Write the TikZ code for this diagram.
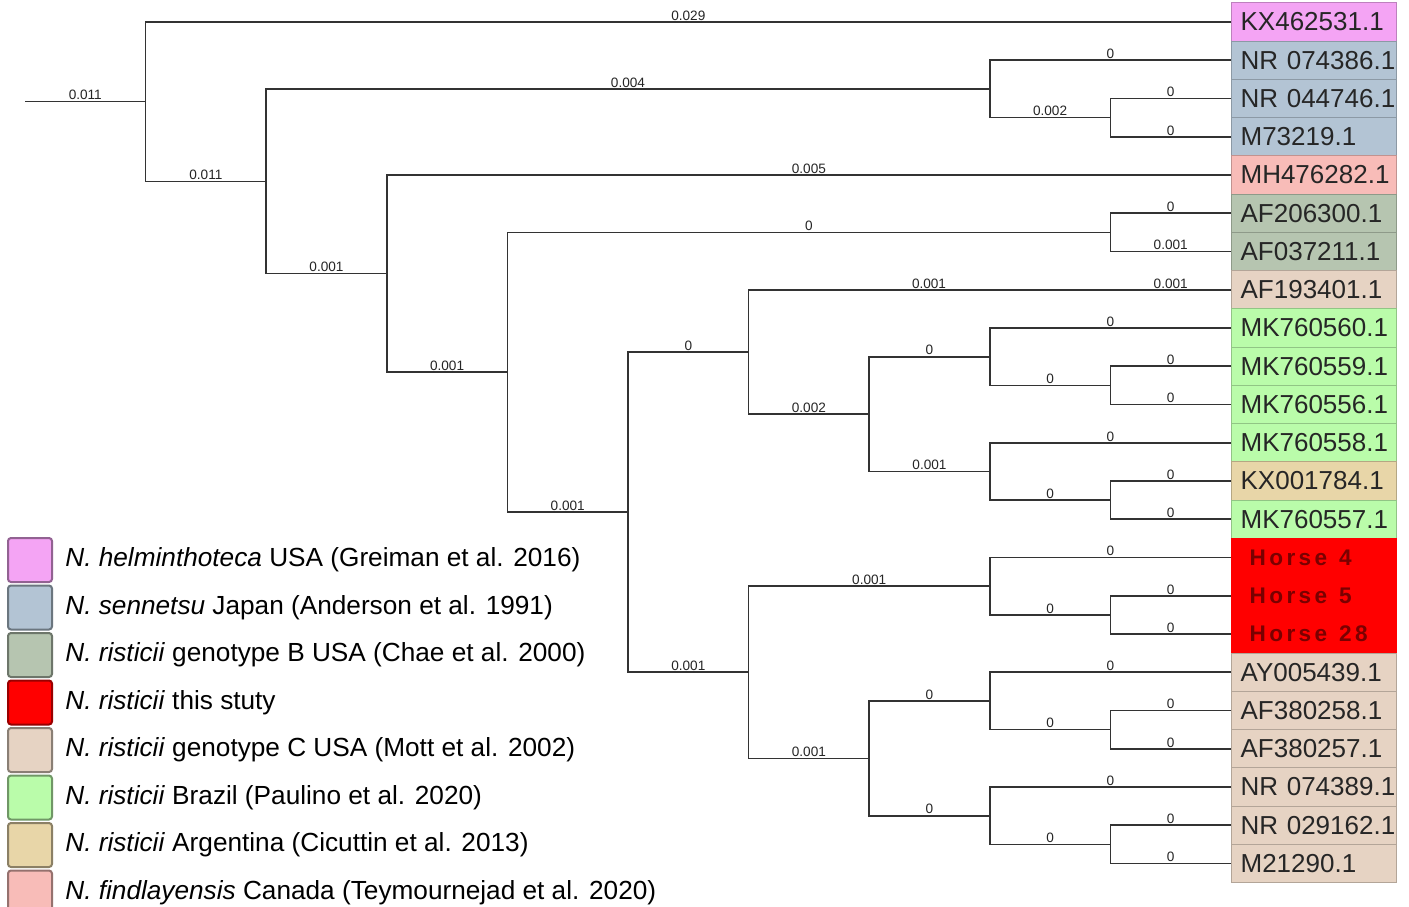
\documentclass[tikz,border=0pt]{standalone}
\usepackage{fontspec}
\setmainfont{Liberation Sans}
\newfontfamily\horsefont[LetterSpace=15]{Liberation Sans}
\newcommand{\hsp}{\hspace{6pt}}

\definecolor{Helmin}{HTML}{F4A4F4}
\definecolor{Sennetsu}{HTML}{B3C4D4}
\definecolor{GenoB}{HTML}{B6C5B0}
\definecolor{Study}{HTML}{FF0000}
\definecolor{GenoC}{HTML}{E6D3C3}
\definecolor{Brazil}{HTML}{BAFCAA}
\definecolor{Argent}{HTML}{E8D6A8}
\definecolor{Findlay}{HTML}{F8BCB8}
\definecolor{HorseTxt}{HTML}{7A0000}

\tikzset{
  branch/.style={line width=0.8pt, color=black!80},
  lbl/.style={anchor=south, inner sep=0.4pt, text=black!85, font=\fontsize{6.8}{7}\selectfont},
  leaf/.style={anchor=west, fill=#1, draw=#1!78!black, line width=0.6pt,
    minimum width=82.5pt, minimum height=19.125pt, text width=82.5pt,
    inner xsep=0pt, inner ysep=0pt, align=left, text=black!85,
    font=\fontsize{13}{14}\selectfont},
  horse/.style={leaf=Study, draw=Study, text=HorseTxt, font=\horsefont\bfseries\fontsize{11.3}{13}\selectfont},
  legsq/.style={minimum size=22pt, inner sep=0pt, rounded corners=1.5pt, line width=1pt, fill=#1, draw=#1!60!black},
  legtxt/.style={anchor=west, inner sep=0pt, font=\fontsize{13.1}{15}\selectfont}
}

\begin{document}
\begin{tikzpicture}[x={(0.5pt,0)}, y={(0,-0.5pt)}]

 \useasboundingbox (0,0) rectangle (1409,906);
 \fill[white] (0,0) rectangle (1409,906);

 %%%%%%%%%% Leaves %%%%%%%%%%
 \node[leaf=Helmin]   (KX462531) at (1231,22)     {\hspace*{4.5pt}KX462531.1};
 \node[leaf=Sennetsu] (NR074386) at (1231,60.25)  {\hspace*{4.5pt}NR 074386.1};
 \node[leaf=Sennetsu] (NR044746) at (1231,98.5)   {\hspace*{4.5pt}NR 044746.1};
 \node[leaf=Sennetsu] (M73219)   at (1231,136.75) {\hspace*{4.5pt}M73219.1};
 \node[leaf=Findlay]  (MH476282) at (1231,175)    {\hspace*{4.5pt}MH476282.1};
 \node[leaf=GenoB]    (AF206300) at (1231,213.25) {\hspace*{4.5pt}AF206300.1};
 \node[leaf=GenoB]    (AF037211) at (1231,251.5)  {\hspace*{4.5pt}AF037211.1};
 \node[leaf=GenoC]    (AF193401) at (1231,289.75) {\hspace*{4.5pt}AF193401.1};
 \node[leaf=Brazil]   (MK760560) at (1231,328)    {\hspace*{4.5pt}MK760560.1};
 \node[leaf=Brazil]   (MK760559) at (1231,366.25) {\hspace*{4.5pt}MK760559.1};
 \node[leaf=Brazil]   (MK760556) at (1231,404.5)  {\hspace*{4.5pt}MK760556.1};
 \node[leaf=Brazil]   (MK760558) at (1231,442.75) {\hspace*{4.5pt}MK760558.1};
 \node[leaf=Argent]   (KX001784) at (1231,481)    {\hspace*{4.5pt}KX001784.1};
 \node[leaf=Brazil]   (MK760557) at (1231,519.25) {\hspace*{4.5pt}MK760557.1};
 \node[horse]         (Horse4)   at (1231,557.5)  {\hspace*{9pt}Horse\hsp 4};
 \node[horse]         (Horse5)   at (1231,595.75) {\hspace*{9pt}Horse\hsp 5};
 \node[horse]         (Horse28)  at (1231,634)    {\hspace*{9pt}Horse\hsp 28};
 \node[leaf=GenoC]    (AY005439) at (1231,672.25) {\hspace*{4.5pt}AY005439.1};
 \node[leaf=GenoC]    (AF380258) at (1231,710.5)  {\hspace*{4.5pt}AF380258.1};
 \node[leaf=GenoC]    (AF380257) at (1231,748.75) {\hspace*{4.5pt}AF380257.1};
 \node[leaf=GenoC]    (NR074389) at (1231,787)    {\hspace*{4.5pt}NR 074389.1};
 \node[leaf=GenoC]    (NR029162) at (1231,825.25) {\hspace*{4.5pt}NR 029162.1};
 \node[leaf=GenoC]    (M21290)   at (1231,863.5)  {\hspace*{4.5pt}M21290.1};

 %%%%%%%%%% Internal nodes %%%%%%%%%%
 \coordinate (0) at (25,101.6);
 \coordinate (A) at (145.6,101.6);
 \coordinate (B) at (266.2,181.3);
 \coordinate (C) at (989.8,88.9);
 \coordinate (D) at (1110.4,117.6);
 \coordinate (E) at (386.8,273.6);
 \coordinate (F) at (507.4,372.2);
 \coordinate (G) at (1110.4,232.4);
 \coordinate (H) at (628,512.1);
 \coordinate (I) at (748.6,351.9);
 \coordinate (J) at (869.2,414.1);
 \coordinate (K) at (989.8,356.7);
 \coordinate (L) at (1110.4,385.4);
 \coordinate (M) at (989.8,471.4);
 \coordinate (N) at (1110.4,500.1);
 \coordinate (O) at (748.6,672.25);
 \coordinate (P) at (989.8,586.2);
 \coordinate (Q) at (1110.4,614.9);
 \coordinate (R) at (869.2,758.3);
 \coordinate (S) at (989.8,700.9);
 \coordinate (T) at (1110.4,729.6);
 \coordinate (U) at (989.8,815.7);
 \coordinate (V) at (1110.4,844.4);

 %%%%%%%%%% Branches %%%%%%%%%%
 \draw[branch] (0) -- (A) node[lbl, midway] {0.011};
 \draw[branch] (A) |- (KX462531.west) node[lbl, pos=0.75] {0.029};
 \draw[branch] (A) |- (B) node[lbl, pos=0.75] {0.011};

 \draw[branch] (B) |- (C) node[lbl, pos=0.75] {0.004};
 \draw[branch] (B) |- (E) node[lbl, pos=0.75] {0.001};
 \draw[branch] (C) |- (NR074386.west) node[lbl, pos=0.75] {0};
 \draw[branch] (C) |- (D) node[lbl, pos=0.75] {0.002};
 \draw[branch] (D) |- (NR044746.west) node[lbl, pos=0.75] {0};
 \draw[branch] (D) |- (M73219.west) node[lbl, pos=0.75] {0};

 \draw[branch] (E) |- (MH476282.west) node[lbl, pos=0.75] {0.005};
 \draw[branch] (E) |- (F) node[lbl, pos=0.75] {0.001};
 \draw[branch] (F) |- (G) node[lbl, pos=0.75] {0};
 \draw[branch] (F) |- (H) node[lbl, pos=0.75] {0.001};
 \draw[branch] (G) |- (AF206300.west) node[lbl, pos=0.75] {0};
 \draw[branch] (G) |- (AF037211.west) node[lbl, pos=0.75] {0.001};

 % Brazil / Argentina clade
 \draw[branch] (H) |- (I) node[lbl, pos=0.75] {0};
 \draw[branch] (I) |- (AF193401.west) node[lbl, pos=0.687] {0.001} node[lbl, pos=0.9375] {0.001};
 \draw[branch] (I) |- (J) node[lbl, pos=0.75] {0.002};
 \draw[branch] (J) |- (K) node[lbl, pos=0.75] {0};
 \draw[branch] (J) |- (M) node[lbl, pos=0.75] {0.001};
 \draw[branch] (K) |- (MK760560.west) node[lbl, pos=0.75] {0};
 \draw[branch] (K) |- (L) node[lbl, pos=0.75] {0};
 \draw[branch] (L) |- (MK760559.west) node[lbl, pos=0.75] {0};
 \draw[branch] (L) |- (MK760556.west) node[lbl, pos=0.75] {0};
 \draw[branch] (M) |- (MK760558.west) node[lbl, pos=0.75] {0};
 \draw[branch] (M) |- (N) node[lbl, pos=0.75] {0};
 \draw[branch] (N) |- (KX001784.west) node[lbl, pos=0.75] {0};
 \draw[branch] (N) |- (MK760557.west) node[lbl, pos=0.75] {0};

 % Horses / genotype C clade
 \draw[branch] (H) |- (O) node[lbl, pos=0.75] {0.001};
 \draw[branch] (O) |- (P) node[lbl, pos=0.75] {0.001};
 \draw[branch] (O) |- (R) node[lbl, pos=0.75] {0.001};
 \draw[branch] (P) |- (Horse4.west) node[lbl, pos=0.75] {0};
 \draw[branch] (P) |- (Q) node[lbl, pos=0.75] {0};
 \draw[branch] (Q) |- (Horse5.west) node[lbl, pos=0.75] {0};
 \draw[branch] (Q) |- (Horse28.west) node[lbl, pos=0.75] {0};
 \draw[branch] (R) |- (S) node[lbl, pos=0.75] {0};
 \draw[branch] (R) |- (U) node[lbl, pos=0.75] {0};
 \draw[branch] (S) |- (AY005439.west) node[lbl, pos=0.75] {0};
 \draw[branch] (S) |- (T) node[lbl, pos=0.75] {0};
 \draw[branch] (T) |- (AF380258.west) node[lbl, pos=0.75] {0};
 \draw[branch] (T) |- (AF380257.west) node[lbl, pos=0.75] {0};
 \draw[branch] (U) |- (NR074389.west) node[lbl, pos=0.75] {0};
 \draw[branch] (U) |- (V) node[lbl, pos=0.75] {0};
 \draw[branch] (V) |- (NR029162.west) node[lbl, pos=0.75] {0};
 \draw[branch] (V) |- (M21290.west) node[lbl, pos=0.75] {0};

 %%%%%%%%%% Legend %%%%%%%%%%
 \node[legsq=Helmin]   (sqHelmin)   at (30,560)   {};
 \node[legsq=Sennetsu] (sqSennetsu) at (30,607.5) {};
 \node[legsq=GenoB]    (sqGenoB)    at (30,655)   {};
 \node[legsq=Study]    (sqStudy)    at (30,702.5) {};
 \node[legsq=GenoC]    (sqGenoC)    at (30,750)   {};
 \node[legsq=Brazil]   (sqBrazil)   at (30,797.5) {};
 \node[legsq=Argent]   (sqArgent)   at (30,845)   {};
 \node[legsq=Findlay]  (sqFindlay)  at (30,892.5) {};

 \node[legtxt] (txHelmin)   at (65,560)   {\textit{N. helminthoteca} USA (Greiman et al. 2016)};
 \node[legtxt] (txSennetsu) at (65,607.5) {\textit{N. sennetsu} Japan (Anderson et al. 1991)};
 \node[legtxt] (txGenoB)    at (65,655)   {\textit{N. risticii} genotype B USA (Chae et al. 2000)};
 \node[legtxt] (txStudy)    at (65,702.5) {\textit{N. risticii} this stuty};
 \node[legtxt] (txGenoC)    at (65,750)   {\textit{N. risticii} genotype C USA (Mott et al. 2002)};
 \node[legtxt] (txBrazil)   at (65,797.5) {\textit{N. risticii} Brazil (Paulino et al. 2020)};
 \node[legtxt] (txArgent)   at (65,845)   {\textit{N. risticii} Argentina (Cicuttin et al. 2013)};
 \node[legtxt] (txFindlay)  at (65,892.5) {\textit{N. findlayensis} Canada (Teymournejad et al. 2020)};

\end{tikzpicture}
\end{document}
